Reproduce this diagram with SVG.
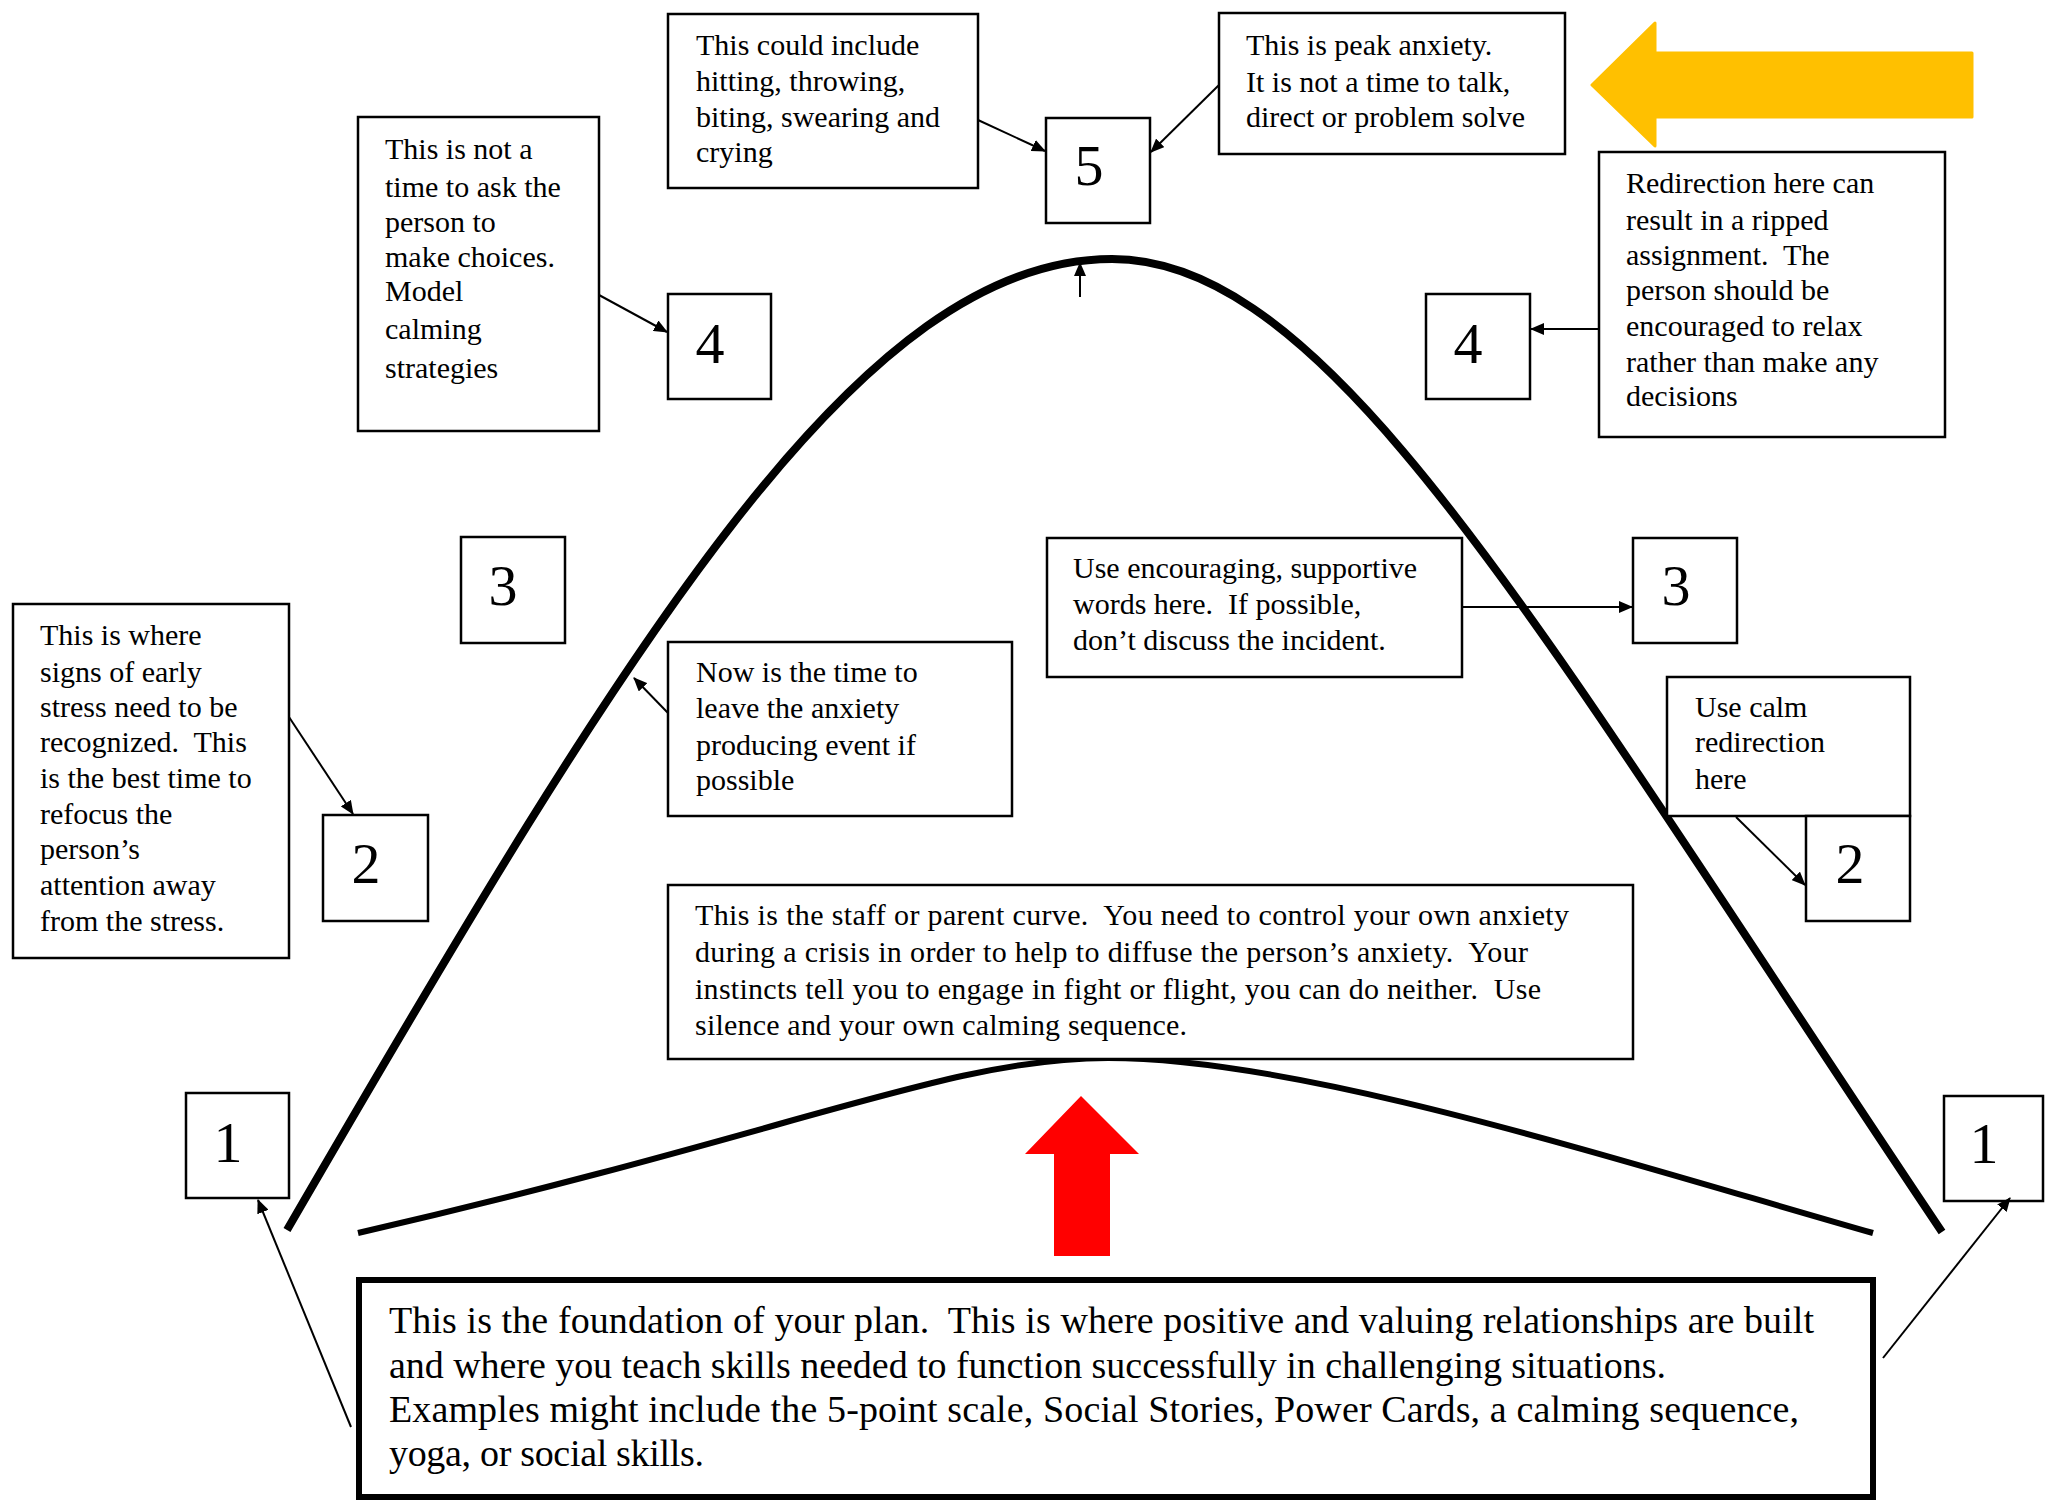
<svg xmlns="http://www.w3.org/2000/svg" width="2045" height="1504" viewBox="0 0 2045 1504">
<defs>
<style>
.box{fill:#fff;stroke:#000;stroke-width:2.5}
.t{font-family:"Liberation Serif","Times New Roman",serif;font-size:30px;fill:#000;white-space:pre}
.num{font-family:"Liberation Serif","Times New Roman",serif;font-size:58px;fill:#000;text-anchor:middle}
.ft{font-family:"Liberation Serif","Times New Roman",serif;font-size:38px;fill:#000;white-space:pre}
.con{fill:none;stroke:#000;stroke-width:2;marker-end:url(#ah)}
.curve{fill:none;stroke:#000}
</style>
<marker id="ah" viewBox="0 0 14 12" refX="13" refY="6" markerWidth="14" markerHeight="12" markerUnits="userSpaceOnUse" orient="auto">
<path d="M0,0 L14,6 L0,12 Z" fill="#000"/>
</marker>
</defs>
<rect x="0" y="0" width="2045" height="1504" fill="#fff"/>

<g id="curves">
<path class="curve" stroke-width="8" d="M287,1230 C635,630 862,259 1112,259 C1332,259 1540,632 1942,1232"/>
<path class="curve" stroke-width="6" d="M358,1233 C800,1131 950,1058 1108,1058 C1300,1058 1600,1155 1873,1233"/>
</g>

<g id="yellow-arrow">
<polygon points="1592,85 1655,23 1655,53 1972,53 1972,117 1655,117 1655,146" fill="#FFC000" stroke="#FFC000" stroke-width="3" stroke-linejoin="round"/>
</g>
<g id="red-arrow">
<polygon points="1081,1096 1139,1154 1110,1154 1110,1256 1054,1256 1054,1154 1025,1154" fill="#FF0000"/>
</g>

<g id="n-include">
<rect class="box" x="668" y="14" width="310" height="174"/>
<text class="t" x="696" y="55">This could include</text>
<text class="t" x="696" y="91">hitting, throwing,</text>
<text class="t" x="696" y="127">biting, swearing and</text>
<text class="t" x="696" y="162">crying</text>
</g>

<g id="n-choices">
<rect class="box" x="358" y="117" width="241" height="314"/>
<text class="t" x="385" y="159">This is not a</text>
<text class="t" x="385" y="197">time to ask the</text>
<text class="t" x="385" y="232">person to</text>
<text class="t" x="385" y="267">make choices.</text>
<text class="t" x="385" y="301">Model</text>
<text class="t" x="385" y="339">calming</text>
<text class="t" x="385" y="378">strategies</text>
</g>

<g id="n-4left">
<rect class="box" x="668" y="294" width="103" height="105"/>
<text class="num" x="710" y="363">4</text>
</g>

<g id="n-5">
<rect class="box" x="1046" y="118" width="104" height="105"/>
<text class="num" x="1089" y="185">5</text>
</g>

<g id="n-peak">
<rect class="box" x="1219" y="13" width="346" height="141"/>
<text class="t" x="1246" y="55">This is peak anxiety.</text>
<text class="t" x="1246" y="92">It is not a time to talk,</text>
<text class="t" x="1246" y="127">direct or problem solve</text>
</g>

<g id="n-4right">
<rect class="box" x="1426" y="294" width="104" height="105"/>
<text class="num" x="1468" y="363">4</text>
</g>

<g id="n-redirection">
<rect class="box" x="1599" y="152" width="346" height="285"/>
<text class="t" x="1626" y="193">Redirection here can</text>
<text class="t" x="1626" y="230">result in a ripped</text>
<text class="t" x="1626" y="265">assignment.  The</text>
<text class="t" x="1626" y="300">person should be</text>
<text class="t" x="1626" y="336">encouraged to relax</text>
<text class="t" x="1626" y="372">rather than make any</text>
<text class="t" x="1626" y="406">decisions</text>
</g>

<g id="n-3left">
<rect class="box" x="461" y="537" width="104" height="106"/>
<text class="num" x="503" y="605">3</text>
</g>

<g id="n-where">
<rect class="box" x="13" y="604" width="276" height="354"/>
<text class="t" x="40" y="645">This is where</text>
<text class="t" x="40" y="682">signs of early</text>
<text class="t" x="40" y="717">stress need to be</text>
<text class="t" x="40" y="752">recognized.  This</text>
<text class="t" x="40" y="788">is the best time to</text>
<text class="t" x="40" y="824">refocus the</text>
<text class="t" x="40" y="859">person’s</text>
<text class="t" x="40" y="895">attention away</text>
<text class="t" x="40" y="931">from the stress.</text>
</g>

<g id="n-2left">
<rect class="box" x="323" y="815" width="105" height="106"/>
<text class="num" x="366" y="883">2</text>
</g>

<g id="n-now">
<rect class="box" x="668" y="642" width="344" height="174"/>
<text class="t" x="696" y="682">Now is the time to</text>
<text class="t" x="696" y="718">leave the anxiety</text>
<text class="t" x="696" y="755">producing event if</text>
<text class="t" x="696" y="790">possible</text>
</g>

<g id="n-encouraging">
<rect class="box" x="1047" y="538" width="415" height="139"/>
<text class="t" x="1073" y="578">Use encouraging, supportive</text>
<text class="t" x="1073" y="614">words here.  If possible,</text>
<text class="t" x="1073" y="650">don’t discuss the incident.</text>
</g>

<g id="n-3right">
<rect class="box" x="1633" y="538" width="104" height="105"/>
<text class="num" x="1676" y="605">3</text>
</g>

<g id="n-calm">
<rect class="box" x="1667" y="677" width="243" height="139"/>
<text class="t" x="1695" y="717">Use calm</text>
<text class="t" x="1695" y="752">redirection</text>
<text class="t" x="1695" y="789">here</text>
</g>

<g id="n-2right">
<rect class="box" x="1806" y="816" width="104" height="105"/>
<text class="num" x="1850" y="883">2</text>
</g>

<g id="n-staff">
<rect class="box" x="668" y="885" width="965" height="174"/>
<text class="t" x="695" y="925" textLength="874" lengthAdjust="spacing">This is the staff or parent curve.  You need to control your own anxiety</text>
<text class="t" x="695" y="962" textLength="833" lengthAdjust="spacing">during a crisis in order to help to diffuse the person’s anxiety.  Your</text>
<text class="t" x="695" y="999" textLength="846" lengthAdjust="spacing">instincts tell you to engage in fight or flight, you can do neither.  Use</text>
<text class="t" x="695" y="1035" textLength="492" lengthAdjust="spacing">silence and your own calming sequence.</text>
</g>

<g id="n-1left">
<rect class="box" x="186" y="1093" width="103" height="105"/>
<text class="num" x="228" y="1162">1</text>
</g>

<g id="n-1right">
<rect class="box" x="1944" y="1096" width="99" height="105"/>
<text class="num" x="1984" y="1163">1</text>
</g>

<g id="n-foundation">
<rect x="359" y="1280" width="1514" height="217" fill="#fff" stroke="#000" stroke-width="6"/>
<text class="ft" x="389" y="1333" textLength="1425" lengthAdjust="spacing">This is the foundation of your plan.  This is where positive and valuing relationships are built</text>
<text class="ft" x="389" y="1378" textLength="1277" lengthAdjust="spacing">and where you teach skills needed to function successfully in challenging situations.</text>
<text class="ft" x="389" y="1422" textLength="1410" lengthAdjust="spacing">Examples might include the 5-point scale, Social Stories, Power Cards, a calming sequence,</text>
<text class="ft" x="389" y="1466" textLength="315" lengthAdjust="spacing">yoga, or social skills.</text>
</g>

<g id="connectors">
<path class="con" d="M978,120 L1045,151"/>
<path class="con" d="M1219,85 L1151,152"/>
<path class="con" d="M599,295 L667,332"/>
<path class="con" d="M1599,329 L1531,329"/>
<path class="con" d="M1080,297 L1080,263"/>
<path class="con" d="M1462,607 L1632,607"/>
<path class="con" d="M289,717 L353,814"/>
<path class="con" d="M668,713 L634,678"/>
<path class="con" d="M1736,817 L1805,885"/>
<path class="con" d="M351,1427 L258,1200"/>
<path class="con" d="M1883,1358 L2010,1198"/>
</g>
</svg>
